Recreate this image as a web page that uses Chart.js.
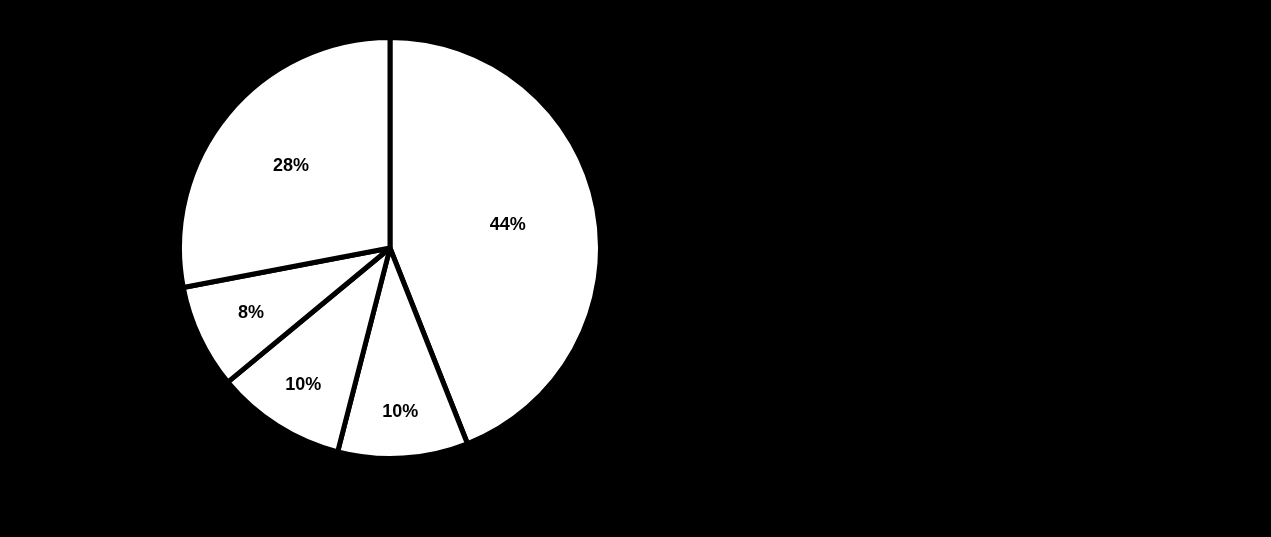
<!DOCTYPE html>
<html>
<head>
<meta charset="utf-8">
<script src="https://cdn.jsdelivr.net/npm/chart.js@4.4.0/dist/chart.umd.min.js"></script>
<style>
  html, body { margin: 0; padding: 0; background: #000; }
  body { width: 1271px; height: 537px; position: relative; overflow: hidden; }
  #wrap { position: absolute; left: 177px; top: 35px; width: 426px; height: 426px; }
</style>
</head>
<body>
<div id="wrap"><canvas id="pie"></canvas></div>
<script>
// slices clockwise from 12 o'clock
const labels = ['A', 'B', 'C', 'D', 'E'];
const shares = [44, 10, 10, 8, 28];

// how far out (fraction of radius) each percent label sits
const labelRadius = [0.57, 0.78, 0.77, 0.73, 0.61];

const pctLabels = {
  id: 'pctLabels',
  afterDatasetsDraw(chart) {
    const ctx = chart.ctx;
    const meta = chart.getDatasetMeta(0);
    ctx.save();
    ctx.fillStyle = '#000';
    ctx.font = 'bold 18px "Liberation Sans", Arial, sans-serif';
    ctx.textAlign = 'center';
    ctx.textBaseline = 'middle';
    meta.data.forEach((arc, i) => {
      const p = arc.getProps(['x', 'y', 'startAngle', 'endAngle', 'outerRadius'], true);
      const mid = (p.startAngle + p.endAngle) / 2;
      const r = p.outerRadius * labelRadius[i];
      ctx.fillText(shares[i] + '%', p.x + Math.cos(mid) * r, p.y + Math.sin(mid) * r);
    });
    ctx.restore();
  }
};

const ctx = document.getElementById('pie');

const pie = new Chart(ctx, {
  type: 'pie',
  data: {
    labels: labels,
    datasets: [{
      data: shares,
      backgroundColor: '#fff',
      borderColor: '#000',
      borderWidth: 5
    }]
  },
  options: {
    responsive: true,
    maintainAspectRatio: false,
    animation: false,
    layout: { padding: 0 },
    plugins: {
      legend: { display: false },
      tooltip: { enabled: false }
    }
  },
  plugins: [pctLabels]
});
</script>
</body>
</html>
